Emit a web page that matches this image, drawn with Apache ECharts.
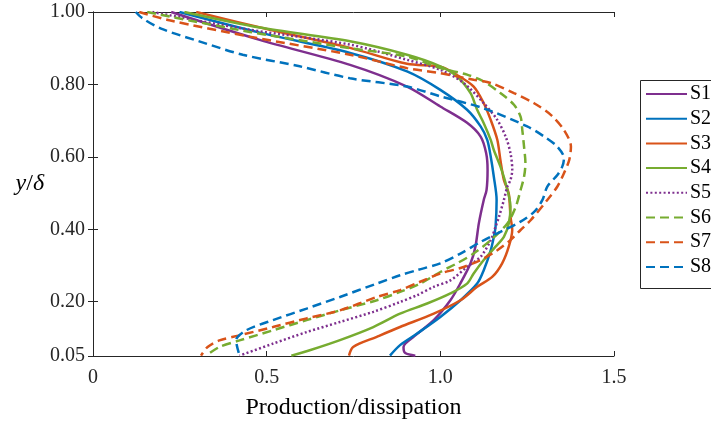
<!DOCTYPE html>
<html>
<head>
<meta charset="utf-8">
<title>Production/dissipation profiles</title>
<script src="https://cdn.jsdelivr.net/npm/echarts@6/dist/echarts.min.js"></script>
<style>
  html, body { margin: 0; padding: 0; background: #fff; }
  #chart { width: 711px; height: 423px; }
</style>
</head>
<body>
<div id="chart"></div>
<script>
// Profiles of production/dissipation ratio against y/delta, one [x, y] list per case.
const seriesNames = ['S1', 'S2', 'S3', 'S4', 'S5', 'S6', 'S7', 'S8'];

const s1 = [
  [0.225, 1.0], [0.480, 0.923], [0.740, 0.854], [0.904, 0.794], [1.000, 0.739],
  [1.077, 0.694], [1.116, 0.656], [1.132, 0.610], [1.136, 0.564], [1.133, 0.508],
  [1.125, 0.481], [1.111, 0.417], [1.101, 0.352], [1.087, 0.306], [1.058, 0.251],
  [1.029, 0.204], [0.981, 0.149], [0.923, 0.103], [0.894, 0.075], [0.899, 0.058],
  [0.928, 0.051]
];
const s2 = [
  [0.249, 1.0], [0.480, 0.943], [0.740, 0.887], [0.904, 0.836], [1.000, 0.785],
  [1.077, 0.730], [1.116, 0.684], [1.135, 0.647], [1.145, 0.601], [1.154, 0.545],
  [1.162, 0.481], [1.159, 0.407], [1.154, 0.379], [1.145, 0.342], [1.125, 0.287],
  [1.106, 0.250], [1.058, 0.204], [1.000, 0.158], [0.933, 0.112], [0.884, 0.080],
  [0.855, 0.051]
];
const s3 = [
  [0.297, 1.0], [0.509, 0.951], [0.740, 0.901], [0.904, 0.857], [1.000, 0.849],
  [1.048, 0.826], [1.096, 0.794], [1.125, 0.748], [1.145, 0.702], [1.164, 0.647],
  [1.173, 0.591], [1.183, 0.536], [1.197, 0.499], [1.202, 0.435], [1.207, 0.398],
  [1.197, 0.352], [1.178, 0.306], [1.150, 0.269], [1.106, 0.241], [1.058, 0.204],
  [0.981, 0.167], [0.884, 0.130], [0.817, 0.103], [0.749, 0.075], [0.737, 0.051]
];
const s4 = [
  [0.263, 1.0], [0.480, 0.957], [0.740, 0.919], [0.904, 0.882], [1.000, 0.850],
  [1.048, 0.822], [1.087, 0.776], [1.106, 0.730], [1.125, 0.693], [1.145, 0.647],
  [1.154, 0.619], [1.173, 0.573], [1.188, 0.527], [1.202, 0.462], [1.197, 0.416],
  [1.183, 0.379], [1.159, 0.352], [1.125, 0.315], [1.096, 0.278], [1.077, 0.250],
  [1.029, 0.223], [0.962, 0.195], [0.884, 0.167], [0.807, 0.130], [0.711, 0.094],
  [0.624, 0.066], [0.571, 0.051]
];
const s5 = [
  [0.171, 1.0], [0.451, 0.951], [0.740, 0.910], [0.904, 0.868], [1.000, 0.840],
  [1.067, 0.804], [1.125, 0.748], [1.164, 0.702], [1.188, 0.656], [1.202, 0.610],
  [1.207, 0.564], [1.202, 0.536], [1.193, 0.518], [1.183, 0.481], [1.169, 0.435],
  [1.159, 0.407], [1.145, 0.370], [1.116, 0.324], [1.077, 0.296], [1.029, 0.259],
  [0.981, 0.241], [0.933, 0.218], [0.884, 0.199], [0.807, 0.172], [0.711, 0.144],
  [0.615, 0.116], [0.518, 0.084], [0.422, 0.051]
];
const s6 = [
  [0.156, 1.0], [0.451, 0.945], [0.740, 0.900], [0.904, 0.877], [1.000, 0.845],
  [1.077, 0.827], [1.125, 0.808], [1.173, 0.776], [1.212, 0.744], [1.231, 0.711],
  [1.236, 0.674], [1.241, 0.628], [1.245, 0.582], [1.241, 0.545], [1.231, 0.508],
  [1.217, 0.462], [1.193, 0.416], [1.145, 0.370], [1.096, 0.333], [1.048, 0.306],
  [1.000, 0.282], [0.942, 0.250], [0.884, 0.227], [0.817, 0.204], [0.711, 0.176],
  [0.615, 0.149], [0.518, 0.121], [0.422, 0.093], [0.364, 0.075], [0.326, 0.051]
];
const s7 = [
  [0.133, 1.0], [0.220, 0.977], [0.451, 0.932], [0.740, 0.882], [0.904, 0.845],
  [1.000, 0.831], [1.096, 0.813], [1.145, 0.804], [1.212, 0.776], [1.270, 0.748],
  [1.318, 0.716], [1.356, 0.674], [1.376, 0.628], [1.371, 0.591], [1.356, 0.555],
  [1.337, 0.518], [1.308, 0.481], [1.260, 0.425], [1.231, 0.398], [1.202, 0.370],
  [1.164, 0.342], [1.116, 0.315], [1.058, 0.293], [1.000, 0.278], [0.942, 0.255],
  [0.884, 0.232], [0.817, 0.213], [0.711, 0.176], [0.615, 0.154], [0.518, 0.130],
  [0.422, 0.107], [0.364, 0.093], [0.330, 0.075], [0.311, 0.051]
];
const s8 = [
  [0.123, 1.0], [0.142, 0.983], [0.196, 0.954], [0.306, 0.919], [0.431, 0.882],
  [0.595, 0.850], [0.740, 0.817], [0.904, 0.794], [1.000, 0.767], [1.125, 0.734],
  [1.250, 0.684], [1.299, 0.656], [1.337, 0.628], [1.356, 0.596], [1.351, 0.573],
  [1.337, 0.550], [1.308, 0.518], [1.294, 0.481], [1.270, 0.448], [1.231, 0.421],
  [1.173, 0.393], [1.116, 0.365], [1.058, 0.333], [1.000, 0.306], [0.933, 0.287],
  [0.884, 0.273], [0.817, 0.250], [0.711, 0.213], [0.615, 0.181], [0.518, 0.149],
  [0.441, 0.121], [0.412, 0.093], [0.422, 0.051]
];

const seriesData = [s1, s2, s3, s4, s5, s6, s7, s8];

// Tick positions on the y axes
const yTicks = [0.05, 0.20, 0.40, 0.60, 0.80, 1.00];

const PURPLE = '#7E2F8E', BLUE = '#0072BD', ORANGE = '#D95319', GREEN = '#77AC30';
const colors = [PURPLE, BLUE, ORANGE, GREEN, PURPLE, GREEN, ORANGE, BLUE];
const dashes = ['solid', 'solid', 'solid', 'solid', [2, 2.4], [9, 5], [9, 5], [9, 5]];

const FONT = "'Liberation Serif', 'Times New Roman', serif";
const INK = '#262626';

const chart = echarts.init(document.getElementById('chart'), null, { renderer: 'canvas' });

const axisLineStyle = { lineStyle: { color: INK, width: 1 } };
const tickStyle = { inside: true, length: 5, lineStyle: { color: INK, width: 1 } };

chart.setOption({
  animation: false,
  backgroundColor: '#ffffff',
  grid: { left: 93, right: 97, top: 12, bottom: 67, containLabel: false, outerBoundsMode: 'none' },
  // Legend frame: runs past the right edge of the canvas
  graphic: [{
    type: 'rect',
    z: 1,
    silent: true,
    shape: { x: 640.5, y: 80.5, width: 120, height: 208 },
    style: { fill: '#ffffff', stroke: INK, lineWidth: 1 }
  }],
  legend: {
    orient: 'vertical',
    left: 640,
    top: 80,
    z: 5,
    padding: [4, 0, 6, 5],
    itemWidth: 41,
    itemHeight: 14,
    itemGap: 4.7,
    itemStyle: { opacity: 0, borderWidth: 0 },
    textStyle: { fontFamily: FONT, fontSize: 20, color: '#000', lineHeight: 20, padding: [0, 0, 0, -2] },
    data: seriesNames
  },
  xAxis: [
    {
      type: 'value', min: 0, max: 1.5, interval: 0.5,
      position: 'bottom',
      name: 'Production/dissipation',
      nameLocation: 'middle',
      nameGap: 40,
      nameTextStyle: { fontFamily: FONT, fontSize: 24, color: '#000' },
      axisLine: axisLineStyle,
      axisTick: tickStyle,
      splitLine: { show: false },
      axisLabel: {
        fontFamily: FONT, fontSize: 20, color: INK, margin: 12,
        formatter: v => (v === 0 ? '0' : v.toFixed(1))
      }
    },
    {
      type: 'value', min: 0, max: 1.5, interval: 0.5,
      position: 'top',
      axisLine: axisLineStyle,
      axisTick: tickStyle,
      axisLabel: { show: false },
      splitLine: { show: false }
    }
  ],
  yAxis: [
    {
      type: 'value', min: 0.05, max: 1.0,
      position: 'left',
      name: '{i|y}{n|/}{i|δ}',
      nameLocation: 'middle',
      nameRotate: 0,
      nameGap: 48,
      nameTextStyle: {
        fontFamily: FONT, fontSize: 24, color: '#000',
        rich: {
          i: { fontFamily: FONT, fontSize: 24, fontStyle: 'italic', color: '#000' },
          n: { fontFamily: FONT, fontSize: 24, color: '#000' }
        }
      },
      axisLine: { show: true, lineStyle: { color: INK, width: 1 } },
      axisTick: Object.assign({ customValues: yTicks }, tickStyle),
      splitLine: { show: false },
      axisLabel: {
        fontFamily: FONT, fontSize: 20, color: INK, margin: 8,
        customValues: yTicks,
        formatter: v => v.toFixed(2)
      }
    },
    {
      type: 'value', min: 0.05, max: 1.0,
      position: 'right',
      axisLine: { show: true, lineStyle: { color: INK, width: 1 } },
      axisTick: Object.assign({ customValues: yTicks }, tickStyle),
      axisLabel: { show: false, customValues: yTicks },
      splitLine: { show: false }
    }
  ],
  series: seriesData.map((d, i) => ({
    name: seriesNames[i],
    type: 'line',
    xAxisIndex: 0,
    yAxisIndex: 0,
    data: d,
    smooth: 0.3,
    symbol: 'none',
    clip: true,
    color: colors[i],
    lineStyle: { color: colors[i], width: 2.5, type: dashes[i] },
    emphasis: { disabled: true }
  }))
});
</script>
</body>
</html>
